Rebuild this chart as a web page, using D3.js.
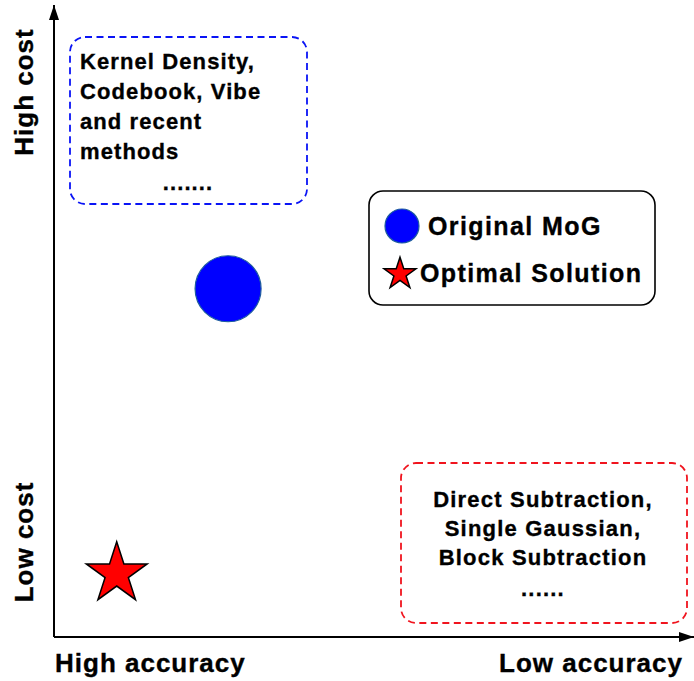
<!DOCTYPE html>
<html><head><meta charset="utf-8">
<script src="https://cdn.jsdelivr.net/npm/d3@7"></script>
<style>
html,body{margin:0;padding:0;background:#fff;}
svg{display:block;}
text{font-family:"Liberation Sans",Arial,Helvetica,sans-serif;font-weight:bold;fill:#000;stroke:#000;stroke-width:0.35px;}
</style></head>
<body>
<script>
// ---- data ----
const methods = ["Original MoG", "Optimal Solution"];
const methodAccuracy = [27.2, 9.8];   // 0 = high accuracy, 100 = low accuracy
const methodCost = [55.1, 10.0];      // 0 = low cost, 100 = high cost
const methodShapes = ["circle", "star"];
const highCostGroup = ["Kernel Density,", "Codebook, Vibe", "and recent", "methods", "......."];
const lowCostGroup = ["Direct Subtraction,", "Single Gaussian,", "Block Subtraction", "......"];
const xAxisLabels = ["High accuracy", "Low accuracy"];
const yAxisLabels = ["High cost", "Low cost"];

const W = 694, H = 681;
const svg = d3.select("body").append("svg").attr("width", W).attr("height", H);

const x = d3.scaleLinear().domain([0, 100]).range([54, 694]);
const y = d3.scaleLinear().domain([0, 100]).range([637, 5]);

// axes with arrows
const defs = svg.append("defs");
defs.append("marker").attr("id", "arrow").attr("viewBox", "0 0 15 10")
  .attr("refX", 15).attr("refY", 5).attr("markerWidth", 15).attr("markerHeight", 10)
  .attr("markerUnits", "userSpaceOnUse").attr("orient", "auto")
  .append("path").attr("d", "M0,0 L15,5 L0,10 Z").attr("fill", "#000");

svg.append("line").attr("x1", x(0)).attr("y1", y(0)).attr("x2", x(100)).attr("y2", y(0))
  .attr("stroke", "#000").attr("stroke-width", 2).attr("marker-end", "url(#arrow)");
svg.append("line").attr("x1", x(0)).attr("y1", y(0)).attr("x2", x(0)).attr("y2", y(100))
  .attr("stroke", "#000").attr("stroke-width", 2).attr("marker-end", "url(#arrow)");

// axis labels
svg.append("text").attr("x", 55).attr("y", 672).attr("font-size", 26).attr("letter-spacing", 1)
  .text(xAxisLabels[0]);
svg.append("text").attr("x", 683).attr("y", 672).attr("font-size", 26).attr("letter-spacing", 1)
  .attr("text-anchor", "end").text(xAxisLabels[1]);
svg.append("text").attr("transform", "translate(33,92) rotate(-90)").attr("font-size", 26)
  .attr("letter-spacing", 1).attr("text-anchor", "middle").text(yAxisLabels[0]);
svg.append("text").attr("transform", "translate(33,542) rotate(-90)").attr("font-size", 26)
  .attr("letter-spacing", 1).attr("text-anchor", "middle").text(yAxisLabels[1]);

// annotation boxes
svg.append("rect").attr("x", 70).attr("y", 37).attr("width", 237).attr("height", 167)
  .attr("rx", 15).attr("fill", "none").attr("stroke", "#0a14f5").attr("stroke-width", 1.8)
  .attr("stroke-dasharray", "7,4.5");
const tg1 = svg.append("g");
highCostGroup.forEach((t, i) => {
  const last = i === highCostGroup.length - 1;
  tg1.append("text").attr("x", last ? 188 : 80).attr("y", last ? 190 : 69 + i * 30)
    .attr("text-anchor", last ? "middle" : "start")
    .attr("font-size", 22).attr("letter-spacing", 1.1).text(t);
});

svg.append("rect").attr("x", 401).attr("y", 463).attr("width", 286).attr("height", 160)
  .attr("rx", 15).attr("fill", "none").attr("stroke", "#f0141e").attr("stroke-width", 1.8)
  .attr("stroke-dasharray", "7,4.5");
const lowY = [507, 536, 565, 596];
lowCostGroup.forEach((t, i) => {
  svg.append("text").attr("x", 543).attr("y", lowY[i]).attr("text-anchor", "middle")
    .attr("font-size", 22).attr("letter-spacing", 1.2).text(t);
});

// marks
const starPath = r => d3.symbol().type(d3.symbolStar).size(r * r / 0.8908130915292852)();
const drawMark = (g, shape, cx, cy, r) => {
  if (shape === "circle") {
    g.append("circle").attr("cx", cx).attr("cy", cy).attr("r", r)
      .attr("fill", "#0000ff").attr("stroke", "#1d5c9e").attr("stroke-width", 1.2);
  } else {
    g.append("path").attr("d", starPath(r)).attr("transform", `translate(${cx},${cy})`)
      .attr("fill", "#ff0000").attr("stroke", "#000").attr("stroke-width", 1.5)
      .attr("stroke-linejoin", "miter");
  }
};
methods.forEach((m, i) => {
  drawMark(svg, methodShapes[i], x(methodAccuracy[i]), y(methodCost[i]), methodShapes[i] === "circle" ? 33 : 32);
});

// legend
svg.append("rect").attr("x", 369).attr("y", 191).attr("width", 286).attr("height", 114)
  .attr("rx", 14).attr("fill", "#fff").attr("stroke", "#000").attr("stroke-width", 1.6);
const legY = [226, 274];
const legX = [402, 400];
const legTextX = [428, 420];
const legBase = [235, 282];
methods.forEach((m, i) => {
  drawMark(svg, methodShapes[i], legX[i], legY[i], methodShapes[i] === "circle" ? 17 : 16.8);
  svg.append("text").attr("x", legTextX[i]).attr("y", legBase[i]).attr("font-size", 25)
    .attr("letter-spacing", 1.4).text(m);
});
</script>
</body></html>
